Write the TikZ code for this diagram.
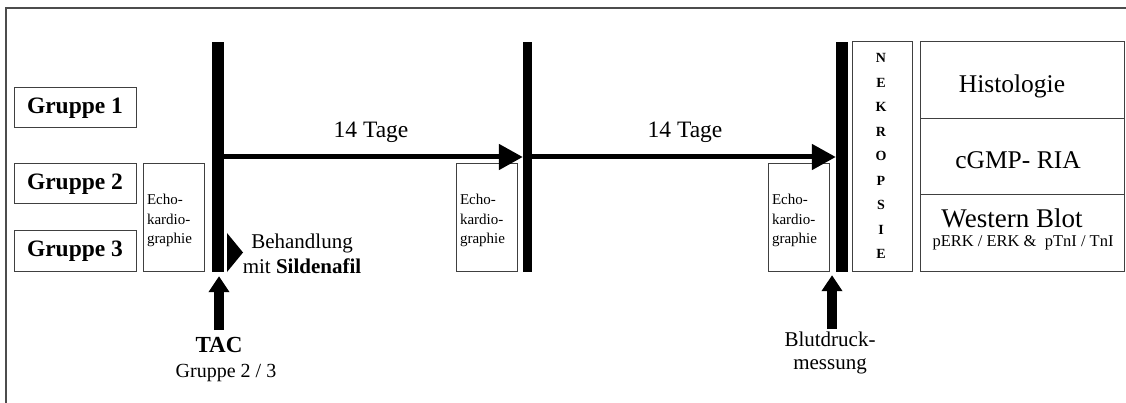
\documentclass[tikz,border=0pt]{standalone}
\usepackage{fontspec}
\setmainfont{Liberation Serif}
\usetikzlibrary{arrows.meta}
\begin{document}
\begin{tikzpicture}[x=1pt,y=-1pt,
  box/.style={draw=black!75, line width=1pt, rectangle, inner sep=0pt},
  grpbox/.style={box, minimum width=122pt, minimum height=40pt, font=\fontsize{23.5}{27}\selectfont\bfseries},
  echobox/.style={box, minimum width=61pt, minimum height=107pt},
  echotext/.style={inner sep=0pt, text width=55pt, align=left, font=\fontsize{15}{19.5}\selectfont},
  resbox/.style={box, minimum width=204pt},
  bar/.style={fill=black, draw=none, rectangle, inner sep=0pt, minimum height=230pt},
  timearrow/.style={line width=5pt, -{Triangle[length=24pt,width=25pt]}},
  uparrow/.style={line width=9.5pt, -{Triangle[length=16pt,width=20pt]}},
  lbl/.style={inner sep=0pt, anchor=base}
]
\useasboundingbox (0,0) rectangle (1126,403);
\draw[line width=1.5pt, black!70] (6,403) -- (6,8) -- (1126,8);

% groups
\node[grpbox] (g1) at (75,108) {Gruppe 1};
\node[grpbox] (g2) at (75,184) {Gruppe 2};
\node[grpbox] (g3) at (75,251) {Gruppe 3};

% echo boxes
\node[echobox] (e1) at (173.5,217.5) {};
\node[echotext] (e1t) at ([xshift=1pt,yshift=-3pt]e1.center) {Echo-\\kardio-\\graphie};
\node[echobox] (e2) at (486.5,217.5) {};
\node[echotext] (e2t) at ([xshift=1pt,yshift=-3pt]e2.center) {Echo-\\kardio-\\graphie};
\node[echobox] (e3) at (798.5,217.5) {};
\node[echotext] (e3t) at ([xshift=1pt,yshift=-3pt]e3.center) {Echo-\\kardio-\\graphie};

% bars
\node[bar, minimum width=12pt] (b1) at (218,157) {};
\node[bar, minimum width=9pt] (b2) at (527.5,157) {};
\node[bar, minimum width=12pt] (b3) at (842,157) {};

% time arrows
\draw[timearrow] (b1.east) -- (b2.west);
\draw[timearrow] (b2.east) -- (b3.west);
\node[lbl, font=\fontsize{23.5}{28}\selectfont] (t1) at (371,138) {14 Tage};
\node[lbl, font=\fontsize{23.5}{28}\selectfont] (t2) at (685,138) {14 Tage};

% Nekropsie
\node[box, minimum width=60pt, minimum height=229pt] (nek) at (882,156.5) {};
\node[align=center, inner sep=0pt, font=\fontsize{14}{24.5}\selectfont\bfseries] (nekt) at (881,156) {N\\E\\K\\R\\O\\P\\S\\I\\E};

% results
\node[resbox, minimum height=77pt] (his) at (1022,80.5) {};
\node[lbl, font=\fontsize{25.5}{30}\selectfont] (hist) at (1012,93) {Histologie};
\node[resbox, minimum height=76pt] (cg) at (1022,157) {};
\node[lbl, font=\fontsize{25.5}{30}\selectfont] (cgt) at (1018,169) {cGMP- RIA};
\node[resbox, minimum height=76pt] (wb) at (1022,233) {};
\node[lbl, font=\fontsize{27}{30}\selectfont] (wbt) at (1012,228) {Western Blot};
\node[lbl, font=\fontsize{16.5}{20}\selectfont] (wbs) at (1023,247) {pERK / ERK \&\ \ pTnI / TnI};

% Behandlung
\fill (227,233) -- (243,252.5) -- (227,272) -- cycle;
\node[lbl, font=\fontsize{21}{25}\selectfont] (beh1) at (302,248) {Behandlung};
\node[lbl, font=\fontsize{21}{25}\selectfont] (beh2) at (302,273) {mit \textbf{Sildenafil}};

% TAC
\node[lbl, font=\fontsize{23}{27}\selectfont\bfseries] (tac) at (219,352) {TAC};
\node[lbl, font=\fontsize{20}{24}\selectfont] (tacg) at (226,377) {Gruppe 2 / 3};
\coordinate (tacfoot) at (219,330);
\draw[uparrow, shorten >=4pt] (tacfoot) -- (tacfoot |- b1.south);

% Blutdruck
\node[lbl, font=\fontsize{21}{25}\selectfont] (bd1) at (830,346) {Blutdruck-};
\node[lbl, font=\fontsize{21}{25}\selectfont] (bd2) at (830,369) {messung};
\coordinate (bdfoot) at (832,329);
\draw[uparrow, shorten >=3pt] (bdfoot) -- (bdfoot |- b3.south);
\end{tikzpicture}
\end{document}
